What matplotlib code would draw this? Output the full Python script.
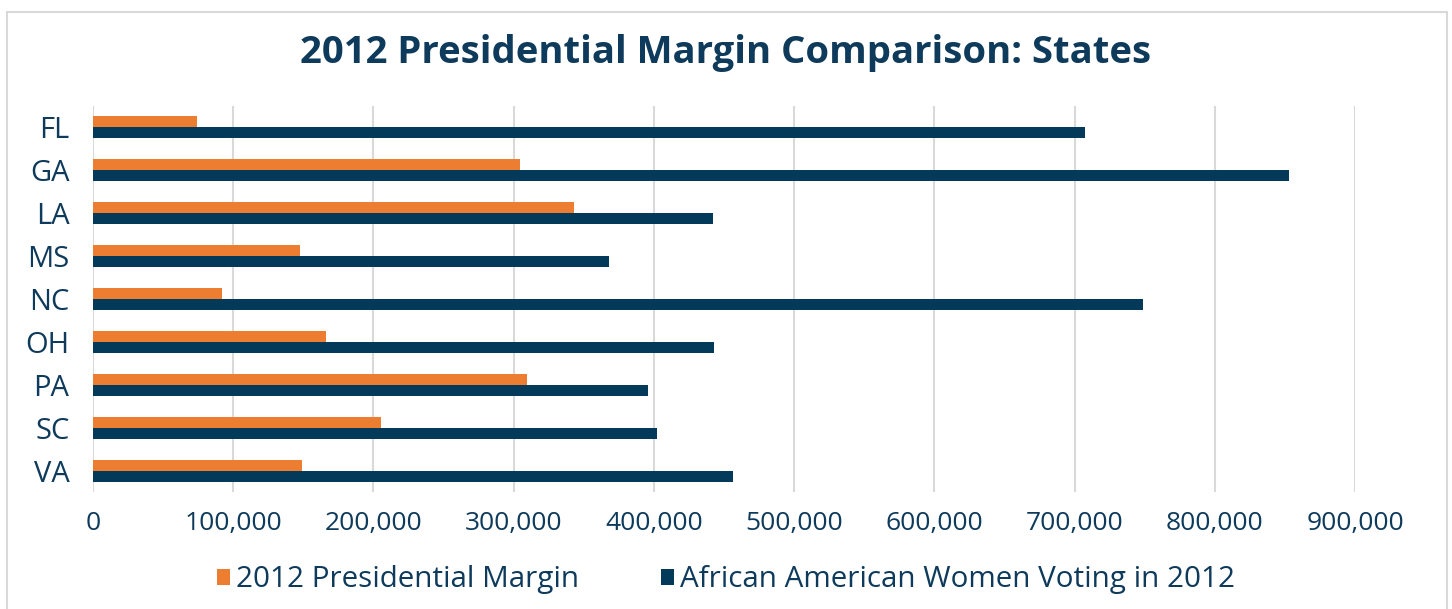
import matplotlib
matplotlib.use("Agg")
import matplotlib.pyplot as plt
import numpy as np
from matplotlib.patches import Rectangle
from matplotlib.ticker import FuncFormatter

# Values
states = ["FL", "GA", "LA", "MS", "NC", "OH", "PA", "SC", "VA"]
margin_2012 = [74000, 304500, 343000, 147600, 91900, 166100, 309500, 205400, 149000]
aa_women_voting = [707800, 852700, 442200, 368300, 748700, 443200, 396000, 402200, 456100]

orange = "#ED7D31"
navy = "#033A5A"
text_color = "#0E3A5B"
grid_color = "#D9D9D9"

plt.rcParams["font.family"] = ["Open Sans", "DejaVu Sans"]

fig = plt.figure(figsize=(14.52, 6.09), dpi=100)
W, H = 1452, 609
ax = fig.add_axes([93 / W, 1 - 492 / H, (1355 - 93) / W, (492 - 105.7) / H])

y = np.arange(len(states))
h = 0.256
ax.barh(y - h / 2, margin_2012, height=h, color=orange, label="2012 Presidential Margin", zorder=3)
ax.barh(y + h / 2, aa_women_voting, height=h, color=navy, label="African American Women Voting in 2012", zorder=3)

ax.set_xlim(0, 900000)
ax.set_ylim(len(states) - 0.5, -0.5)
ax.set_yticks(y)
ax.set_yticklabels(states)
ax.set_xticks(np.arange(0, 900001, 100000))
ax.xaxis.set_major_formatter(FuncFormatter(lambda v, p: f"{int(v):,}"))

ax.grid(axis="x", color=grid_color, linewidth=1.5, zorder=0)
for s in ax.spines.values():
    s.set_visible(False)
ax.tick_params(axis="y", length=0, pad=17, labelsize=21, labelcolor=text_color)
ax.tick_params(axis="x", length=0, pad=14, labelsize=19, labelcolor=text_color)

fig.text(0.5, 1 - 53 / H, "2012 Presidential Margin Comparison: States", ha="center", va="center",
         fontsize=27.5, fontweight="bold", color=text_color)

leg = fig.legend(loc="center", bbox_to_anchor=(0.5, 1 - 580 / H), ncol=2, frameon=False,
                 fontsize=21.3, handlelength=0.42, handleheight=0.42, handletextpad=0.2,
                 columnspacing=2.8)
for t in leg.get_texts():
    t.set_color(text_color)

# light grey frame around the chart
fig.patches.append(Rectangle((6.7 / W, -0.05), (1447 - 6.7) / W, 1.05 - 11.7 / H,
                             transform=fig.transFigure, fill=False, edgecolor=grid_color,
                             linewidth=1.5))

fig.savefig("out.png", dpi=100)
